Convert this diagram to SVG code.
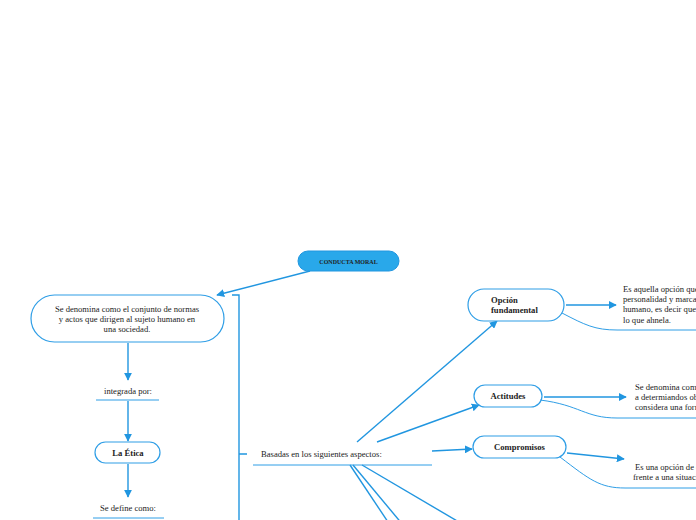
<svg xmlns="http://www.w3.org/2000/svg" width="696" height="520" viewBox="0 0 696 520">
<defs>
<marker id="ah" viewBox="0 0 10 10" refX="9" refY="5" markerWidth="8" markerHeight="8" markerUnits="userSpaceOnUse" orient="auto">
<path d="M0,0 L10,5 L0,10 z" fill="#2196e0"/>
</marker>
<style>
.t{font-family:"Liberation Serif","Times New Roman",serif;font-size:8.6px;fill:#222}
.b{font-weight:bold}
.n{fill:#fff;stroke:#2f9ee6;stroke-width:1.2}
.c{fill:none;stroke:#2196e0;stroke-width:1.4}
.a{fill:none;stroke:#2196e0;stroke-width:1.4;marker-end:url(#ah)}
.u{fill:none;stroke:#2f9ee6;stroke-width:1}
</style>
</defs>
<rect width="696" height="520" fill="#fff"/>
<g id="connectors">
<line class="a" x1="310" y1="271" x2="217" y2="295"/>
<line class="a" x1="128" y1="343" x2="128" y2="380"/>
<line class="a" x1="128" y1="401" x2="128" y2="441"/>
<line class="a" x1="128" y1="464" x2="128" y2="497"/>
<path class="c" d="M232,295 H239 V520 M239,454 H247"/>
<line class="a" x1="357" y1="442" x2="497" y2="321"/>
<line class="a" x1="377" y1="442" x2="479" y2="405"/>
<line class="a" x1="432" y1="451" x2="472" y2="449"/>
<line class="c" x1="350" y1="465" x2="390" y2="525"/>
<line class="c" x1="353" y1="465" x2="403" y2="525"/>
<line class="c" x1="362" y1="465" x2="464" y2="525"/>
<line class="a" x1="566" y1="305" x2="616" y2="305"/>
<line class="a" x1="544" y1="397" x2="626" y2="397"/>
<line class="a" x1="567" y1="453" x2="624" y2="459"/>
</g>
<g id="n-conducta">
<rect x="298" y="251" width="101" height="20" rx="10" fill="#29a8ea" stroke="#2196e0" stroke-width="1"/>
<text class="t b" x="348.5" y="263.5" text-anchor="middle" style="font-size:6px">CONDUCTA MORAL</text>
</g>
<g id="n-definicion">
<rect class="n" x="31" y="295" width="193" height="47" rx="23.5"/>
<text class="t" text-anchor="middle"><tspan x="127" y="312">Se denomina como el conjunto de normas</tspan><tspan x="127" y="322">y actos que dirigen al sujeto humano en</tspan><tspan x="127" y="332">una sociedad.</tspan></text>
</g>
<g id="n-integrada">
<text class="t" x="128" y="394" text-anchor="middle">integrada por:</text>
<line class="u" x1="96" y1="400" x2="159" y2="400"/>
</g>
<g id="n-etica">
<rect class="n" x="95" y="442" width="65" height="21" rx="10.5"/>
<text class="t b" x="128" y="456" text-anchor="middle">La Ética</text>
</g>
<g id="n-define">
<text class="t" x="128" y="511" text-anchor="middle">Se define como:</text>
<line class="u" x1="93" y1="518" x2="164" y2="518"/>
</g>
<g id="n-basadas">
<text class="t" x="261" y="457">Basadas en los siguientes aspectos:</text>
<line class="u" x1="253" y1="465" x2="432" y2="465"/>
</g>
<g id="n-opcion">
<rect class="n" x="468" y="289" width="96" height="32" rx="16"/>
<text class="t b"><tspan x="491" y="303">Opción</tspan><tspan x="491" y="313">fundamental</tspan></text>
</g>
<g id="n-opcion-desc">
<text class="t"><tspan x="623" y="292">Es aquella opción que</tspan><tspan x="623" y="302">personalidad y marca</tspan><tspan x="623" y="312">humano, es decir que</tspan><tspan x="623" y="322.5">lo que ahnela.</tspan></text>
<path class="u" d="M562,313 C585,325 595,330 617,330 H700"/>
</g>
<g id="n-actitudes">
<rect class="n" x="474" y="385" width="68" height="22" rx="11"/>
<text class="t b" x="508" y="399" text-anchor="middle">Actitudes</text>
</g>
<g id="n-actitudes-desc">
<text class="t"><tspan x="635" y="390">Se denomina como</tspan><tspan x="635" y="400">a determiandos ob</tspan><tspan x="635" y="410">considera una forma</tspan></text>
<path class="u" d="M540,400 C580,405 585,418 617,418 H700"/>
</g>
<g id="n-compromisos">
<rect class="n" x="473" y="436" width="93" height="22" rx="11"/>
<text class="t b" x="519.5" y="450" text-anchor="middle">Compromisos</text>
</g>
<g id="n-compromisos-desc">
<text class="t"><tspan x="635" y="470">Es una opción de c</tspan><tspan x="633" y="480">frente a una situaci</tspan></text>
<path class="u" d="M560,457 C590,480 600,488 625,488 H700"/>
</g>
</svg>
